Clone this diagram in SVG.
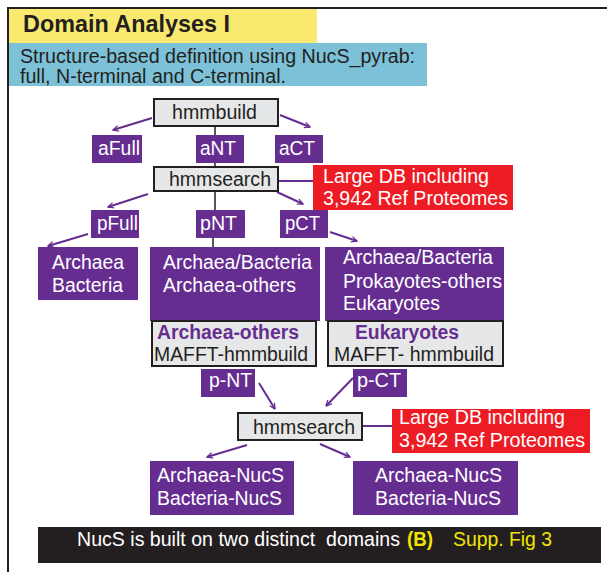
<svg xmlns="http://www.w3.org/2000/svg" width="607" height="572" viewBox="0 0 607 572">
<defs>
<marker id="ah" viewBox="0 0 10 10" refX="9" refY="5" markerWidth="7" markerHeight="7" markerUnits="userSpaceOnUse" orient="auto">
<path d="M1,1 L9,5 L1,9" fill="none" stroke="#662d91" stroke-width="1.8"/>
</marker>
<style>
text{font-family:"Liberation Sans",Arial,sans-serif;white-space:pre;}
.pb{fill:#662d91;}
.rb{fill:#ed1c24;}
.gb{fill:#e6e7e8;stroke:#231f20;stroke-width:2;}
.w{fill:#ffffff;font-size:19.5px;}
.k{fill:#231f20;font-size:19.5px;}
.pt{fill:#662d91;font-size:19.5px;font-weight:bold;}
.arr{stroke:#662d91;stroke-width:2;fill:none;marker-end:url(#ah);}
.ln{stroke:#662d91;stroke-width:2;fill:none;}
.vl{stroke:#231f20;stroke-width:1.5;fill:none;}
</style>
</defs>
<rect width="607" height="572" fill="#ffffff"/>
<path d="M8,572 V8 H607" fill="none" stroke="#231f20" stroke-width="2"/>

<g id="subtitle">
<rect x="9" y="43" width="418" height="43" fill="#7cc1d7"/>
<text x="20" y="63" style="font-size:19.5px;fill:#231f20" textLength="395" lengthAdjust="spacingAndGlyphs">Structure-based definition using NucS_pyrab:</text>
<text x="20" y="83" style="font-size:19.5px;fill:#231f20" textLength="266" lengthAdjust="spacingAndGlyphs">full, N-terminal and C-terminal.</text>
</g>
<g id="title">
<rect x="9" y="9" width="308" height="34" fill="#f9e96f"/>
<text x="23" y="32" style="font-size:23.4px;font-weight:bold;fill:#231f20" textLength="207" lengthAdjust="spacingAndGlyphs">Domain Analyses I</text>
</g>

<g id="connectors">
<line class="vl" x1="215" y1="126" x2="215" y2="166"/>
<line class="vl" x1="215" y1="191" x2="215" y2="210"/>
<line class="vl" x1="213" y1="238" x2="213" y2="247"/>
<line class="ln" x1="278" y1="181" x2="313" y2="181"/>
<line class="ln" x1="362" y1="426" x2="392" y2="426"/>
<line class="arr" x1="152" y1="118" x2="113" y2="130"/>
<line class="arr" x1="280" y1="115" x2="310" y2="127"/>
<line class="arr" x1="148" y1="194" x2="108" y2="207"/>
<line class="arr" x1="277" y1="192" x2="303" y2="204"/>
<line class="arr" x1="88" y1="234" x2="48" y2="246"/>
<line class="arr" x1="330" y1="232" x2="357" y2="241"/>
<line class="arr" x1="259" y1="383" x2="275" y2="409"/>
<line class="arr" x1="353" y1="378" x2="326" y2="406"/>
<line class="arr" x1="247" y1="445" x2="207" y2="457"/>
<line class="arr" x1="320" y1="444" x2="350" y2="457"/>
</g>

<g id="hmmbuild">
<rect class="gb" x="154" y="99" width="124" height="27"/>
<text class="k" x="172" y="119" textLength="85" lengthAdjust="spacingAndGlyphs">hmmbuild</text>
</g>
<g id="aFull"><rect class="pb" x="92" y="135" width="50" height="28"/><text class="w" x="98" y="155" textLength="42" lengthAdjust="spacingAndGlyphs">aFull</text></g>
<g id="aNT"><rect class="pb" x="196" y="135" width="48" height="28"/><text class="w" x="200" y="155" textLength="36" lengthAdjust="spacingAndGlyphs">aNT</text></g>
<g id="aCT"><rect class="pb" x="275" y="135" width="48" height="28"/><text class="w" x="279" y="155" textLength="36" lengthAdjust="spacingAndGlyphs">aCT</text></g>

<g id="hmmsearch1">
<rect class="gb" x="154" y="167" width="124" height="24"/>
<text class="k" x="169" y="186" textLength="102" lengthAdjust="spacingAndGlyphs">hmmsearch</text>
</g>
<g id="db1">
<rect class="rb" x="313" y="165" width="200" height="45"/>
<text class="w" x="323" y="183" textLength="166" lengthAdjust="spacingAndGlyphs">Large DB including</text>
<text class="w" x="323" y="205" textLength="185" lengthAdjust="spacingAndGlyphs">3,942 Ref Proteomes</text>
</g>

<g id="pFull"><rect class="pb" x="91" y="210" width="48" height="28"/><text class="w" x="97" y="230" textLength="41" lengthAdjust="spacingAndGlyphs">pFull</text></g>
<g id="pNT"><rect class="pb" x="196" y="210" width="49" height="28"/><text class="w" x="200" y="230" textLength="37" lengthAdjust="spacingAndGlyphs">pNT</text></g>
<g id="pCT"><rect class="pb" x="280" y="210" width="48" height="28"/><text class="w" x="285" y="230" textLength="35" lengthAdjust="spacingAndGlyphs">pCT</text></g>

<g id="resFull">
<rect class="pb" x="38" y="247" width="100" height="53"/>
<text class="w" x="52" y="269" textLength="72" lengthAdjust="spacingAndGlyphs">Archaea</text>
<text class="w" x="52" y="292" textLength="71" lengthAdjust="spacingAndGlyphs">Bacteria</text>
</g>
<g id="resNT">
<rect class="pb" x="150" y="247" width="170" height="74"/>
<text class="w" x="163" y="269" textLength="149" lengthAdjust="spacingAndGlyphs">Archaea/Bacteria</text>
<text class="w" x="163" y="292" textLength="133" lengthAdjust="spacingAndGlyphs">Archaea-others</text>
</g>
<g id="resCT">
<rect class="pb" x="325" y="247" width="179" height="74"/>
<text class="w" x="343" y="264" textLength="150" lengthAdjust="spacingAndGlyphs">Archaea/Bacteria</text>
<text class="w" x="343" y="288" textLength="159" lengthAdjust="spacingAndGlyphs">Prokayotes-others</text>
<text class="w" x="343" y="310" textLength="97" lengthAdjust="spacingAndGlyphs">Eukaryotes</text>
</g>
<g id="mafftNT">
<rect class="gb" x="152" y="321" width="164" height="45"/>
<text class="pt" x="157" y="339" textLength="142" lengthAdjust="spacingAndGlyphs">Archaea-others</text>
<text class="k" x="154" y="361" textLength="154" lengthAdjust="spacingAndGlyphs">MAFFT-hmmbuild</text>
</g>
<g id="mafftCT">
<rect class="gb" x="328" y="321" width="175" height="45"/>
<text class="pt" x="355" y="339" textLength="104" lengthAdjust="spacingAndGlyphs">Eukaryotes</text>
<text class="k" x="334" y="361" textLength="160" lengthAdjust="spacingAndGlyphs">MAFFT- hmmbuild</text>
</g>

<g id="p-NT"><rect class="pb" x="201" y="369" width="54" height="28"/><text class="w" x="209" y="387" textLength="43" lengthAdjust="spacingAndGlyphs">p-NT</text></g>
<g id="p-CT"><rect class="pb" x="353" y="369" width="54" height="28"/><text class="w" x="357" y="387" textLength="44" lengthAdjust="spacingAndGlyphs">p-CT</text></g>

<g id="hmmsearch2">
<rect class="gb" x="238" y="413" width="124" height="27"/>
<text class="k" x="253" y="434" textLength="102" lengthAdjust="spacingAndGlyphs">hmmsearch</text>
</g>
<g id="db2">
<rect class="rb" x="392" y="409" width="198" height="44"/>
<text class="w" x="399" y="424" textLength="166" lengthAdjust="spacingAndGlyphs">Large DB including</text>
<text class="w" x="399" y="447" textLength="186" lengthAdjust="spacingAndGlyphs">3,942 Ref Proteomes</text>
</g>

<g id="nucsL">
<rect class="pb" x="150" y="461" width="144" height="54"/>
<text class="w" x="157" y="482" textLength="127" lengthAdjust="spacingAndGlyphs">Archaea-NucS</text>
<text class="w" x="157" y="505" textLength="125" lengthAdjust="spacingAndGlyphs">Bacteria-NucS</text>
</g>
<g id="nucsR">
<rect class="pb" x="353" y="461" width="165" height="54"/>
<text class="w" x="375" y="482" textLength="127" lengthAdjust="spacingAndGlyphs">Archaea-NucS</text>
<text class="w" x="375" y="505" textLength="126" lengthAdjust="spacingAndGlyphs">Bacteria-NucS</text>
</g>

<g id="footer">
<rect x="38" y="527" width="563" height="36" fill="#231f20"/>
<text x="77" y="546" style="font-size:19.5px;fill:#ffffff" textLength="323" lengthAdjust="spacingAndGlyphs">NucS is built on two distinct  domains</text>
<text x="407" y="546" style="font-size:19.5px;font-weight:bold;fill:#f2e600" textLength="26" lengthAdjust="spacingAndGlyphs">(B)</text>
<text x="453" y="546" style="font-size:19.5px;fill:#f2e600" textLength="99" lengthAdjust="spacingAndGlyphs">Supp. Fig 3</text>
</g>
</svg>
